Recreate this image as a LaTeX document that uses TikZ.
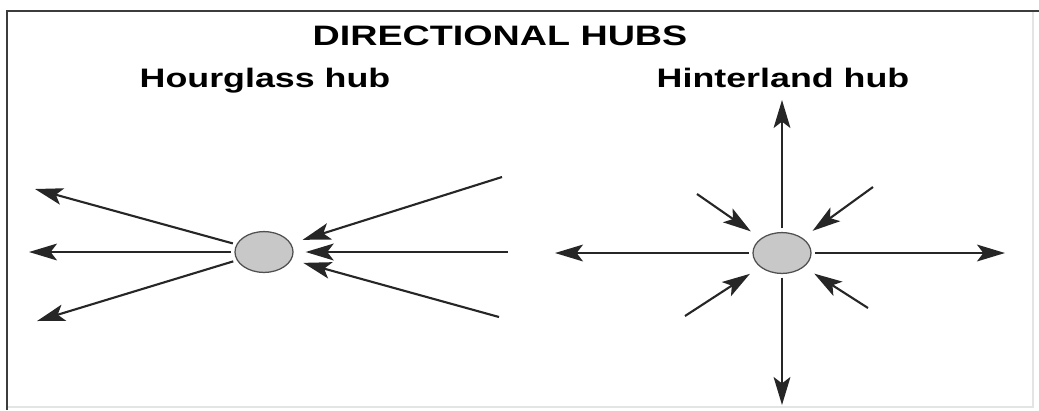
\documentclass[tikz,border=0pt]{standalone}
\usepackage{fontspec}
\setmainfont{Liberation Sans}
\newfontfamily\widesans[FakeStretch=1.34]{Liberation Sans}
\usetikzlibrary{arrows.meta,shapes.geometric}
\definecolor{hubfill}{HTML}{C8C8C8}
\definecolor{hubline}{HTML}{505050}
\definecolor{framedark}{HTML}{3C3C3C}
\definecolor{framelight}{HTML}{E4E4E4}
\tikzset{
  hub/.style={ellipse,draw=hubline,line width=0.9pt,fill=hubfill,minimum width=1.45cm,
              minimum height=1.02cm,inner sep=0pt,outer sep=3pt},
  flowarr/.style={-{Stealth[length=7mm,width=4.2mm,inset=1.6mm]},line width=1.5pt,black!85},
  inarr/.style={flowarr,shorten >=6pt},
  heading/.style={anchor=base,font=\widesans\bfseries\fontsize{20}{24}\selectfont},
  subhead/.style={anchor=base,font=\widesans\bfseries\fontsize{19}{23}\selectfont},
}

\begin{document}
\begin{tikzpicture}[x=0.025cm,y=-0.025cm]
        \useasboundingbox (0,0) rectangle (1039,410);
        % frame
        \draw[framelight,line width=1pt] (1033,11) -- (1033,407) -- (7,407);
        \draw[framedark,line width=1.8pt] (7,410) -- (7,11) -- (1039,11);
        % titles
        \node[heading] (title) at (500,45) {DIRECTIONAL HUBS};
        \node[subhead] (hgtitle) at (265,87) {Hourglass hub};
        \node[subhead] (hltitle) at (783,87) {Hinterland hub};
        % hourglass hub
        \node[hub] (hg) at (264,252) {};
        \coordinate (hgW1) at (35,189);
        \coordinate (hgW2) at (29,252);
        \coordinate (hgW3) at (37,321);
        \coordinate (hgE1) at (502,177);
        \coordinate (hgE2) at (508,252);
        \coordinate (hgE3) at (499,317);
        \foreach \i in {1,2,3} {
          \draw[flowarr] (hg) -- (hgW\i);
          \draw[inarr] (hgE\i) -- (hg);
        }
        % hinterland hub
        \node[hub] (hl) at (782,253) {};
        \coordinate (hlN) at (782,100);
        \coordinate (hlS) at (782,405);
        \coordinate (hlW) at (555,253);
        \coordinate (hlE) at (1005,253);
        \coordinate (hlNW) at (697,194);
        \coordinate (hlNE) at (873,187);
        \coordinate (hlSW) at (685,316);
        \coordinate (hlSE) at (868,308);
        \foreach \d in {N,S,W,E}
          \draw[flowarr] (hl) -- (hl\d);
        \foreach \d in {NW,NE,SW,SE}
          \draw[inarr] (hl\d) -- (hl);
      \end{tikzpicture}
\end{document}
